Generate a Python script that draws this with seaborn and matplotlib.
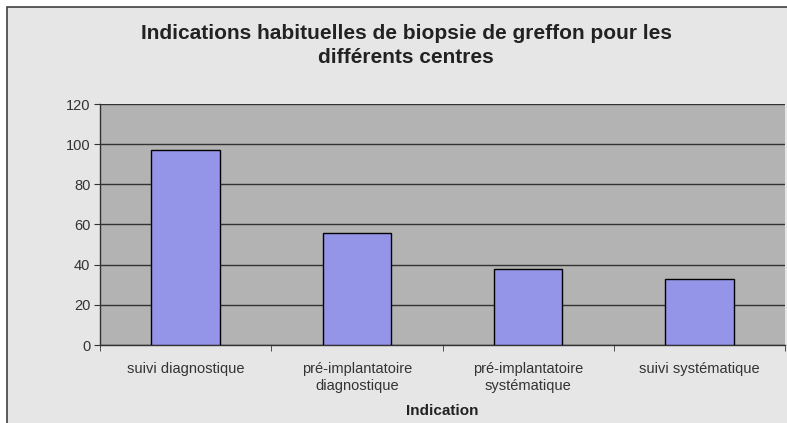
import matplotlib
matplotlib.use("Agg")
import matplotlib.pyplot as plt
import seaborn as sns
import pandas as pd
from matplotlib.patches import Rectangle

# values
categories = ["suivi diagnostique", "pré-implantatoire\ndiagnostique",
              "pré-implantatoire\nsystématique", "suivi systématique"]
counts = [97, 56, 38, 33]
y_ticks = [0, 20, 40, 60, 80, 100, 120]

df = pd.DataFrame({"indication": categories, "n": counts})

plt.rcParams["font.family"] = ["Liberation Sans", "DejaVu Sans"]

fig = plt.figure(figsize=(7.87, 4.23), dpi=100)
fig.patch.set_facecolor("white")
# chart area frame (light grey with dark border)
fig.patches.append(Rectangle((7 / 787, -0.01), 1.0, 1 - 7 / 423 + 0.01,
                             transform=fig.transFigure, facecolor="#e6e6e6",
                             edgecolor="#404040", linewidth=1.2, zorder=-10))

ax = fig.add_axes([100 / 787, 78 / 423, 685 / 787, 241 / 423])
ax.set_zorder(1)
ax.set_facecolor("#b3b3b3")

sns.barplot(data=df, x="indication", y="n", color="#9494e8", width=0.4,
            edgecolor="black", linewidth=1.0, saturation=1, ax=ax, zorder=3)

ax.set_ylim(0, 120)
ax.set_xlim(-0.5, len(categories) - 0.5)
ax.set_yticks(y_ticks)
ax.yaxis.grid(True, color="#333333", linewidth=1.0, zorder=1)
ax.set_axisbelow(True)

for s in ["top", "right"]:
    ax.spines[s].set_visible(False)
for s in ["left", "bottom"]:
    ax.spines[s].set_color("#333333")
    ax.spines[s].set_linewidth(1.0)

ax.set_xticks(range(len(categories)))
ax.set_xticklabels(categories, fontsize=10.5, color="#333333", linespacing=1.3)
ax.set_xticks([i - 0.5 for i in range(len(categories) + 1)], minor=True)
ax.tick_params(axis="x", which="major", length=0, pad=12)
ax.tick_params(axis="x", which="minor", length=4, color="#333333")
ax.tick_params(axis="y", length=4, color="#333333", labelsize=10.5,
               labelcolor="#333333", pad=3)

ax.set_xlabel("Indication", fontsize=11, fontweight="bold", color="#222222",
              labelpad=8)
ax.set_ylabel("")

fig.text(406 / 787, 1 - 45.5 / 423,
         "Indications habituelles de biopsie de greffon pour les\ndifférents centres",
         ha="center", va="center", fontsize=15, fontweight="bold",
         color="#222222", linespacing=1.3)

fig.savefig("out.png", dpi=100)
